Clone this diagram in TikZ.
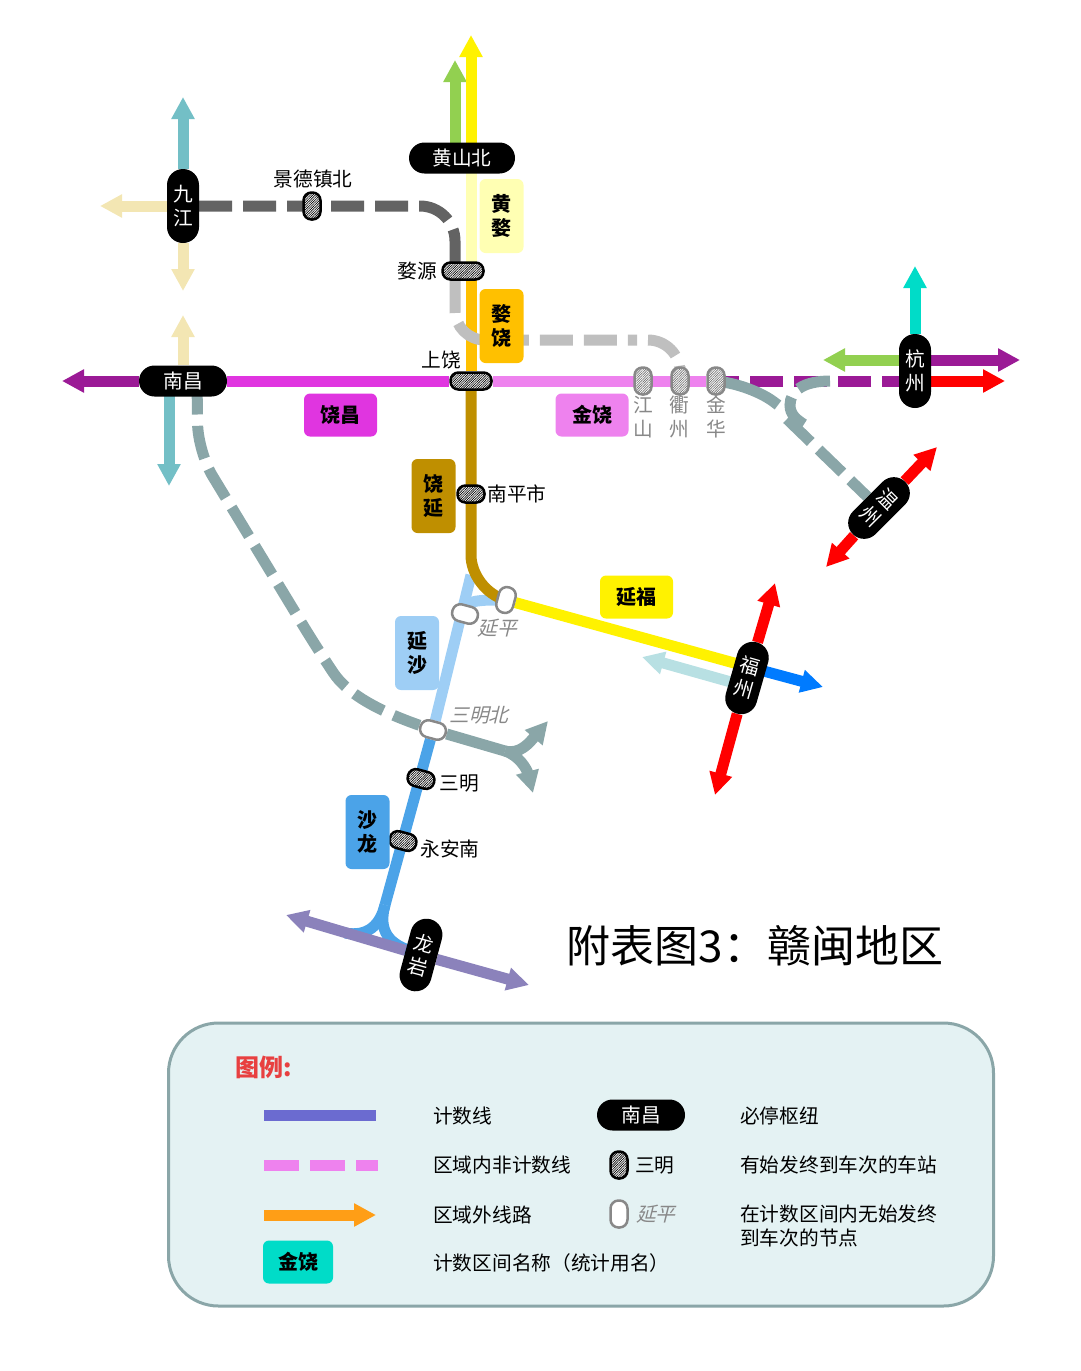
\documentclass[tikz,border=0pt]{standalone}
\usepackage{fontspec}
\setmainfont{Noto Sans CJK SC}
\newfontfamily\slantcjk[FakeSlant=0.25]{Noto Sans CJK SC}
\usetikzlibrary{arrows.meta,patterns.meta,backgrounds}

\definecolor{cPaleYellow}{HTML}{FFFFB3}
\definecolor{cOrange}{HTML}{FFC000}
\definecolor{cGold}{HTML}{BF8F00}
\definecolor{cMagenta}{HTML}{E035E0}
\definecolor{cViolet}{HTML}{EE82EE}
\definecolor{cPurple}{HTML}{9B1A96}
\definecolor{cSky}{HTML}{9ECEF5}
\definecolor{cBlue}{HTML}{4BA3E8}
\definecolor{cAzure}{HTML}{007BFF}
\definecolor{cIce}{HTML}{B8E0E3}
\definecolor{cTeal}{HTML}{73BFC6}
\definecolor{cCream}{HTML}{F3E6B3}
\definecolor{cLeaf}{HTML}{92D050}
\definecolor{cCyan}{HTML}{00DCC8}
\definecolor{cSlate}{HTML}{8AA6A8}
\definecolor{cDark}{HTML}{636363}
\definecolor{cLight}{HTML}{BFBFBF}
\definecolor{cIris}{HTML}{8B82BB}
\definecolor{cIndigo}{HTML}{6B6BD0}
\definecolor{cAmber}{HTML}{FF9E16}
\definecolor{cPanel}{HTML}{E4F2F3}
\definecolor{cTitle}{HTML}{E84040}
\definecolor{cMute}{HTML}{888888}

\begin{document}
\begin{tikzpicture}
  [x=1pt,y=-1pt,
   every node/.style={font=\fontsize{19.7}{24}\selectfont,inner sep=0pt,align=center},
   hubh/.style={fill=black,text=white,rounded corners=15.5pt,minimum width=88pt,minimum height=31pt},
   hubv/.style={fill=black,text=white,rounded corners=16pt,minimum width=32pt,minimum height=74pt},
   stn/.style={draw=black,line width=2.5pt,rounded corners=8pt,preaction={fill=white},
     pattern={Lines[angle=45,distance=1.7pt,line width=.65pt]},minimum width=17pt,minimum height=27pt},
   stnwide/.style={stn,minimum width=41pt,minimum height=17pt},
   stnflat/.style={stn,minimum width=27pt,minimum height=17pt},
   stngrey/.style={stn,draw=cMute,pattern color=black!55},
   stnopen/.style={draw=cMute,fill=white,line width=2.5pt,rounded corners=8pt,minimum width=17pt,minimum height=26pt},
   tagh/.style={rounded corners=6pt,font=\fontsize{20}{24}\selectfont\bfseries,minimum width=73pt,minimum height=43pt},
   tagv/.style={rounded corners=6pt,font=\fontsize{20}{24}\selectfont\bfseries,minimum width=44pt,minimum height=74pt},
   track/.style={line width=11pt},
   dashtrack/.style={track,dash pattern=on 33pt off 11pt},
   arrowline/.style={track,-{Triangle[length=22pt,width=22pt]}},
   greytext/.style={text=cMute},
   slanttext/.style={text=cMute,font=\fontsize{19.7}{24}\selectfont\slantcjk},
   legendtext/.style={anchor=west}]

  \useasboundingbox (0,0) rectangle (1080,1371);

  % hubs
  \node[hubh,minimum width=106pt] (hsb) at (462,158) {黄山北};
  \node[hubv] (jj)  at (183,206) {九\\江};
  \node[hubh] (nc)  at (183,381) {南昌};
  \node[hubv] (hz)  at (915,371) {杭\\州};
  \node[hubv,rotate=-45] (wz) at (879,508) {温\\州};
  \node[hubv,rotate=-16] (fz) at (747,678) {福\\州};
  \node[hubv,rotate=-15] (ly) at (421,955) {龙\\岩};

  % stations
  \node[stn] (jdz)       at (312,206) {};
  \node[stnwide] (wy)    at (463,271) {};
  \node[stnwide] (sr)    at (471,381) {};
  \node[stnflat] (npc)   at (471,494) {};
  \node[stngrey] (js)    at (643,381) {};
  \node[stngrey] (qz)    at (680,381) {};
  \node[stngrey] (jh)    at (716,381) {};
  \node[stnopen,rotate=-15] (yp2)  at (506,600) {};
  \node[stnopen,rotate=75] (yp)    at (465,614) {};
  \node[stnopen,rotate=75] (smb)   at (433,730) {};
  \node[stnflat,rotate=-15] (sm)   at (421,779) {};
  \node[stnflat,rotate=-15] (yan)  at (403,841) {};

  % section names
  \node[tagv,fill=cPaleYellow] (tHW) at (501.5,216) {黄\\婺};
  \node[tagv,fill=cOrange]     (tWR) at (501.5,326) {婺\\饶};
  \node[tagh,fill=cMagenta]    (tRC) at (340.5,415) {饶昌};
  \node[tagh,fill=cViolet]     (tJR) at (592,415) {金饶};
  \node[tagv,fill=cGold]       (tRY) at (433.5,496) {饶\\延};
  \node[tagh,fill=yellow]      (tYF) at (636.5,597) {延福};
  \node[tagv,fill=cSky]        (tYS) at (417,653) {延\\沙};
  \node[tagv,fill=cBlue]       (tSL) at (367.5,832) {沙\\龙};

  % station names
  \node (lJdz) at (313,179) {景德镇北};
  \node (lWy)  at (417,271) {婺源};
  \node (lSr)  at (441,360) {上饶};
  \node (lNpc) at (517,494) {南平市};
  \node[greytext] (lJs) at (643,417) {江\\山};
  \node[greytext] (lQz) at (679,417) {衢\\州};
  \node[greytext] (lJh) at (716,417) {金\\华};
  \node[slanttext] (lYp)  at (497,628) {延平};
  \node[slanttext] (lSmb) at (479,715) {三明北};
  \node (lSm)  at (459,783) {三明};
  \node (lYan) at (450,849) {永安南};

  \node[font=\fontsize{44}{52}\selectfont] (title) at (755,946) {附表图3：赣闽地区};

  % legend
  \node[anchor=west,text=cTitle,font=\fontsize{24}{28}\selectfont\bfseries] (lgTitle) at (235,1067) {图例:};
  \coordinate (k1a) at (264,1115);
  \coordinate (k1b) at (376,1115);
  \coordinate (k2a) at (264,1165);
  \coordinate (k2b) at (378,1165);
  \coordinate (k3a) at (264,1215);
  \coordinate (k3b) at (376,1215);
  \node[tagh,fill=cCyan,minimum width=70pt] (kTag) at (298,1262) {金饶};
  \node[legendtext] (k1t) at (433,1116) {计数线};
  \node[legendtext] (k2t) at (433,1165) {区域内非计数线};
  \node[legendtext] (k3t) at (433,1215) {区域外线路};
  \node[legendtext] (k4t) at (433,1263) {计数区间名称（统计用名）};
  \node[hubh] (kHub) at (641,1115) {南昌};
  \node[stn] (kStn) at (619,1165) {};
  \node[legendtext] (kStnT) at (635,1165) {三明};
  \node[stnopen,minimum height=27pt] (kOpen) at (619,1214) {};
  \node[legendtext,slanttext] (kOpenT) at (636,1214) {延平};
  \node[legendtext] (k5t) at (740,1116) {必停枢纽};
  \node[legendtext] (k6t) at (740,1165) {有始发终到车次的车站};
  \node[legendtext,align=left] (k7t) at (740,1226) {在计数区间内无始发终\\到车次的节点};

  % free ends and bends
  \coordinate (hsY) at (471,158);  \coordinate (hsG) at (455,158);
  \coordinate (tipY) at (471,35);  \coordinate (tipG) at (455,60);
  \coordinate (wyY) at (471,271);  \coordinate (wyL) at (455,262);
  \coordinate (wyB) at (455,280);  \coordinate (jdC) at (455,206);
  \coordinate (lgC) at (455,340);  \coordinate (lgE) at (637,340);
  \coordinate (lhS) at (648,340);  \coordinate (lhC) at (680,340);
  \coordinate (goC) at (471,590);
  \coordinate (fzY) at (745,666);  \coordinate (fzP) at (745,686);
  \coordinate (tipAz) at (823,687); \coordinate (tipIc) at (642,657);
  \coordinate (tipR1) at (775,583); \coordinate (tipR2) at (715,795);
  \coordinate (tipW1) at (937,447); \coordinate (tipW2) at (826,567);
  \coordinate (hzG) at (915,360);  \coordinate (hzR) at (915,381);
  \coordinate (tipCy) at (915,266); \coordinate (tipLf) at (823,360);
  \coordinate (tipPu) at (1020,360); \coordinate (tipRe) at (1005,381);
  \coordinate (jhE) at (725,381);  \coordinate (sgC) at (746,381);
  \coordinate (sgE) at (778,405);  \coordinate (sdS) at (787,419);
  \coordinate (cuS) at (830,381);  \coordinate (cuD) at (790,405);
  \coordinate (cuE) at (805,425);
  \coordinate (tipT) at (183,97);  \coordinate (tipCl) at (100,206);
  \coordinate (tipCd) at (183,291); \coordinate (tipCu) at (183,315);
  \coordinate (tipNw) at (62,381); \coordinate (ncT) at (169,381);
  \coordinate (tipNt) at (169,486); \coordinate (ncS) at (197,381);
  \coordinate (nsC) at (198,452);  \coordinate (nsD) at (318,650);
  \coordinate (frk) at (505,751);  \coordinate (tipF1) at (548,721);
  \coordinate (tipF2) at (533,793);
  \coordinate (skT) at (471,575);  \coordinate (blT) at (385,905);
  \coordinate (blL) at (345,933);  \coordinate (blR) at (415,952);
  \coordinate (tipI1) at (286,915); \coordinate (tipI2) at (529,985);

  \begin{scope}[on background layer]
    % legend panel
    \node[draw=cSlate,fill=cPanel,line width=3pt,rounded corners=50pt,minimum width=825pt,minimum height=283pt] (panel) at (581,1164.5) {};

    \draw[track,cBlue] (blT) .. controls (380,925) and (368,937) .. (blL);
    \draw[track,cBlue] (blT) .. controls (378,930) and (388,945) .. (blR);

    % outgoing arrows
    \foreach \from/\to/\col in {hsG/tipG/cLeaf,hsY/tipY/yellow,jj/tipT/cTeal,jj/tipCl/cCream,jj/tipCd/cCream,
        nc/tipCu/cCream,nc/tipNw/cPurple,ncT/tipNt/cTeal,hz/tipCy/cCyan,hzG/tipLf/cLeaf,hzG/tipPu/cPurple,
        hzR/tipRe/red,wz/tipW1/red,wz/tipW2/red,fz/tipR1/red,fz/tipR2/red,fzY/tipAz/cAzure,fzP/tipIc/cIce,
        ly/tipI1/cIris,ly/tipI2/cIris,k3a/k3b/cAmber}
      \draw[arrowline,draw=\col,fill=\col] (\from) -- (\to);

    % counted lines
    \foreach \from/\to/\col in {hsY/wyY/cPaleYellow,wyY/sr/cOrange,nc/sr/cMagenta,sr/jh/cViolet,
        yp2/fzY/yellow,skT/smb/cSky,smb/blT/cBlue,k1a/k1b/cIndigo}
      \draw[track,draw=\col] (\from) -- (\to);
    \draw[track,cSky] (yp2) .. controls (490,600) and (470,600) .. (yp);
    \draw[track,cGold,rounded corners=35pt] (sr) -- (goC) -- (yp2);

    % lines not counted
    \draw[dashtrack,cDark,rounded corners=35pt] (jj) -- (jdC) -- (wyL);
    \draw[dashtrack,cLight,rounded corners=30pt] (wyB) -- (lgC) -- (lgE);
    \draw[dashtrack,cLight,rounded corners=32pt] (lhS) -- (lhC) -- (qz);
    \draw[dashtrack,cPurple] (hzR) -- (jhE);
    \draw[dashtrack,dash pattern=on 35pt off 11pt,cViolet] (k2a) -- (k2b);
    \draw[track,cSlate,rounded corners=35pt] (jhE) -- (sgC) -- (sgE);
    \draw[dashtrack,cSlate] (sdS) -- (wz);
    \draw[dashtrack,cSlate] (cuS) .. controls (805,381) and (790,390) .. (cuD) .. controls (790,415) and (797,420) .. (cuE);
    \draw[track,dash pattern=on 33.5pt off 11.3pt,cSlate,rounded corners=28pt] (ncS) -- (nsC) -- (nsD) .. controls (345,690) and (370,708) .. (smb);
    \draw[track,cSlate] (smb) -- (frk);
    \draw[arrowline,cSlate] (frk) .. controls (520,755) and (530,742) .. (tipF1);
    \draw[arrowline,cSlate] (frk) .. controls (520,756) and (527,770) .. (tipF2);
  \end{scope}

\end{tikzpicture}
\end{document}
